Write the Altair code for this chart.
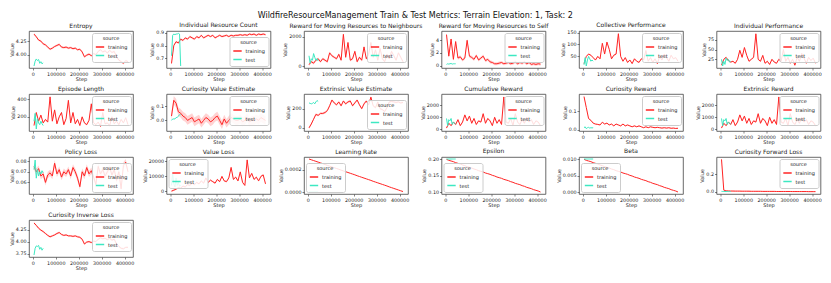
import altair as alt
import pandas as pd

RED = "#ff2424"
CYAN = "#3de8c2"
FONT = "DejaVu Sans"

MAIN_TITLE = "WildfireResourceManagement Train & Test Metrics: Terrain Elevation: 1, Task: 2"

TRAIN_STEPS = [5000, 15000, 25000, 35000, 45000, 55000, 65000, 75000, 85000, 95000,
               105000, 115000, 125000, 135000, 145000, 155000, 165000, 175000, 185000, 195000,
               205000, 215000, 225000, 235000, 245000, 255000, 265000, 275000, 285000, 295000,
               305000, 315000, 325000, 335000, 345000, 355000, 365000, 375000, 385000, 395000,
               405000, 415000]
TEST_STEPS = [5000, 10000, 15000, 20000, 25000, 30000, 35000, 40000, 45000]
X_TICKS = [0, 100000, 200000, 300000, 400000]

ENTROPY_TRAIN = [4.38, 4.33, 4.27, 4.25, 4.20, 4.18, 4.14, 4.10, 4.12, 4.15,
                 4.17, 4.19, 4.14, 4.13, 4.14, 4.12, 4.13, 4.11, 4.12, 4.09,
                 4.10, 4.05, 3.96, 3.99, 4.01, 3.98, 4.02, 4.00, 4.06, 4.09,
                 4.05, 4.07, 4.03, 4.08, 4.04, 4.06, 3.96, 3.90, 3.87, 3.84,
                 3.89, 3.87]
ENTROPY_TEST = [3.79, 3.88, 3.92, 3.89, 3.91, 3.84, 3.87, 3.83, 3.85]

IRC_TRAIN = [0.66, 0.80, 0.83, 0.82, 0.85, 0.84, 0.86, 0.85, 0.87, 0.86,
             0.85, 0.87, 0.86, 0.88, 0.86, 0.87, 0.88, 0.87, 0.88, 0.86,
             0.87, 0.88, 0.87, 0.875, 0.88, 0.87, 0.88, 0.875, 0.88, 0.88,
             0.885, 0.88, 0.885, 0.88, 0.89, 0.885, 0.89, 0.88, 0.89, 0.885,
             0.89, 0.885]
IRC_TEST = [0.72, 0.88, 0.89, 0.885, 0.89, 0.89, 0.895, 0.89, 0.64]

RN_TRAIN = [100, 300, 200, 400, 500, 300, 500, 400, 300, 900,
            700, 600, 500, 800, 400, 2150, 600, 1600, 400, 500,
            1000, 300, 600, 400, 1300, 500, 800, 1600, 600, 1100,
            400, 1200, 500, 300, 800, 500, 1000, 700, 400, 900,
            600, 300]
RN_TEST = [700, 200, 500, 400, 850, 600, 400, 500, 350]

RS_TRAIN = [4.9, 1.5, 4.2, 1.0, 3.8, 1.2, 1.4, 0.9, 1.2, 4.0,
            1.5, 1.3, 1.0, 1.6, 0.9, 1.2, 1.5, 0.8, 1.0, 0.6,
            0.5, 0.3, 0.3, 0.4, 0.5, 0.3, 0.4, 0.5, 0.3, 0.4,
            0.6, 0.3, 0.5, 0.4, 0.6, 0.3, 0.5, 0.2, 0.3, 0.2,
            0.3, 0.25]
RS_TEST = [0.2, 0.3, 0.25, 0.3, 0.35, 0.25, 0.3, 0.3, 0.3]

CP_TRAIN = [20, 50, 60, 55, 45, 35, 50, 40, 105, 60,
            110, 80, 40, 55, 60, 145, 50, 30, 45, 25,
            35, 20, 40, 30, 25, 40, 35, 75, 30, 45,
            25, 40, 20, 50, 35, 60, 45, 30, 55, 40,
            45, 30]
CP_TEST = [15, 45, 10, 35, 50, 40, 30, 35, 30]

IP_TRAIN = [10, 25, 30, 22, 18, 20, 15, 25, 48, 30,
            55, 35, 20, 25, 30, 90, 25, 20, 35, 15,
            20, 12, 25, 18, 15, 25, 20, 50, 20, 30,
            15, 25, 10, 30, 20, 40, 28, 15, 30, 22,
            28, 15]
IP_TEST = [25, 8, 20, 12, 28, 22, 25, 18, 20]

EL_TRAIN = [100, 250, 150, 220, 130, 170, 140, 430, 150, 280,
            120, 200, 250, 110, 180, 390, 130, 250, 120, 170,
            100, 200, 130, 110, 160, 350, 130, 110, 140, 90,
            250, 120, 130, 100, 200, 120, 150, 110, 170, 130,
            190, 110]
EL_TEST = [150, 240, 60, 180, 130, 110, 150, 120, 100]

CVE_TRAIN = [0.03, 0.14, 0.12, 0.06, 0.05, 0.03, 0.02, 0.0, 0.01, 0.02,
             -0.01, 0.0, 0.01, -0.02, 0.0, 0.02, 0.01, -0.01, 0.0, 0.02,
             0.03, 0.0, -0.03, 0.01, -0.02, 0.0, 0.02, 0.01, 0.0, 0.0,
             0.01, -0.01, 0.0, 0.02, -0.01, 0.0, 0.0, 0.01, 0.0, 0.02,
             0.01, 0.0]
CVE_TEST = [0.0, 0.01, 0.01, 0.01, 0.02, 0.02, 0.03, 0.04, 0.04]

EVE_TRAIN = [0, 40, 90, 140, 130, 150, 150, 160, 180, 230,
             290, 260, 240, 270, 230, 280, 250, 270, 280, 230,
             260, 290, 240, 200, 250, 280, 240, 320, 230, 210,
             270, 200, 190, 170, 210, 270, 275, 270, 265, 270,
             260, 265]
EVE_TEST = [260, 255, 250, 255, 265, 250, 270, 285, 275]

CR_TRAIN = [100, 500, 300, 600, 400, 800, 300, 600, 1200, 700,
            1100, 500, 900, 400, 700, 600, 1300, 500, 900, 700,
            300, 1000, 500, 800, 400, 2700, 600, 500, 900, 300,
            1300, 600, 400, 800, 500, 1000, 600, 800, 400, 700,
            600, 300]
CR_TEST = [900, 300, 800, 700, 900, 400, 600, 500, 450]

CUR_TRAIN = [0.18, 0.12, 0.06, 0.05, 0.035, 0.03, 0.028, 0.025, 0.04, 0.03,
             0.035, 0.025, 0.03, 0.02, 0.03, 0.025, 0.02, 0.03, 0.02, 0.025,
             0.02, 0.015, 0.02, 0.015, 0.02, 0.015, 0.01, 0.015, 0.01, 0.015,
             0.012, 0.01, 0.012, 0.01, 0.008, 0.01, 0.008, 0.01, 0.007, 0.008,
             0.006, 0.007]
CUR_TEST = [0.01, 0.015, 0.005, 0.01, 0.012, 0.008, 0.01, 0.009, 0.01]

ER_TRAIN = [100, 500, 300, 600, 400, 800, 300, 600, 1200, 700,
            1100, 500, 900, 400, 700, 600, 1300, 500, 900, 700,
            300, 1000, 500, 800, 400, 2700, 600, 500, 900, 300,
            1300, 600, 400, 800, 500, 1000, 600, 800, 400, 700,
            600, 300]
ER_TEST = [900, 300, 800, 700, 900, 400, 600, 500, 450]

PL_TRAIN = [0.075, 0.070, 0.073, 0.066, 0.068, 0.060, 0.067, 0.069, 0.066, 0.078,
            0.068, 0.072, 0.065, 0.070, 0.068, 0.072, 0.066, 0.074, 0.070, 0.064,
            0.056, 0.070, 0.066, 0.074, 0.068, 0.071, 0.065, 0.058, 0.075, 0.068,
            0.072, 0.066, 0.070, 0.074, 0.067, 0.072, 0.062, 0.070, 0.054, 0.076,
            0.079, 0.070]
PL_TEST = [0.072, 0.081, 0.064, 0.072, 0.066, 0.070, 0.068, 0.071, 0.069]

VL_TRAIN = [200, 800, 1500, 2500, 2200, 3500, 3000, 4500, 4000, 5500,
            4500, 6000, 5000, 7000, 5500, 9000, 6000, 7500, 6500, 5500,
            8000, 6500, 10000, 7000, 6500, 9000, 16000, 8000, 9500, 7000,
            13000, 6000, 4000, 21000, 9000, 12000, 8000, 9500, 7000, 10000,
            11000, 5000]
VL_TEST = [4000, 12000, 5000, 3000, 9000, 4000, 6000, 3500, 4000]

LR_TRAIN = [2.96e-4, 2.89e-4, 2.82e-4, 2.75e-4, 2.68e-4, 2.61e-4, 2.54e-4, 2.46e-4, 2.39e-4, 2.32e-4,
            2.25e-4, 2.18e-4, 2.11e-4, 2.04e-4, 1.96e-4, 1.89e-4, 1.82e-4, 1.75e-4, 1.68e-4, 1.61e-4,
            1.54e-4, 1.46e-4, 1.39e-4, 1.32e-4, 1.25e-4, 1.18e-4, 1.11e-4, 1.04e-4, 9.6e-5, 8.9e-5,
            8.2e-5, 7.5e-5, 6.8e-5, 6.1e-5, 5.4e-5, 4.6e-5, 3.9e-5, 3.2e-5, 2.5e-5, 1.8e-5,
            1.1e-5, 4e-6]
LR_TEST = [0.0, 0.0, 0.0, 0.0, 0.0, 0.0, 0.0, 0.0, 0.0]

EPS_TRAIN = [0.199, 0.196, 0.194, 0.192, 0.189, 0.187, 0.185, 0.182, 0.180, 0.177,
             0.175, 0.173, 0.170, 0.168, 0.165, 0.163, 0.161, 0.158, 0.156, 0.154,
             0.151, 0.149, 0.146, 0.144, 0.142, 0.139, 0.137, 0.135, 0.132, 0.130,
             0.127, 0.125, 0.123, 0.120, 0.118, 0.115, 0.113, 0.111, 0.108, 0.106,
             0.104, 0.101]
EPS_TEST = [0.2, 0.2, 0.2, 0.2, 0.2, 0.2, 0.2, 0.2, 0.2]

BETA_TRAIN = [0.0099, 0.0096, 0.0094, 0.0092, 0.0089, 0.0087, 0.0085, 0.0082, 0.0080, 0.0077,
              0.0075, 0.0073, 0.0070, 0.0068, 0.0065, 0.0063, 0.0061, 0.0058, 0.0056, 0.0054,
              0.0051, 0.0049, 0.0046, 0.0044, 0.0042, 0.0039, 0.0037, 0.0035, 0.0032, 0.0030,
              0.0027, 0.0025, 0.0023, 0.0020, 0.0018, 0.0015, 0.0013, 0.0011, 0.0008, 0.0006,
              0.0004, 0.0001]
BETA_TEST = [0.01, 0.01, 0.01, 0.01, 0.01, 0.01, 0.01, 0.01, 0.01]

CFL_TRAIN = [0.37, 0.02, 0.012, 0.011, 0.010, 0.010, 0.009, 0.009, 0.009, 0.008,
             0.008, 0.008, 0.008, 0.007, 0.007, 0.007, 0.007, 0.007, 0.006, 0.006,
             0.006, 0.006, 0.006, 0.006, 0.005, 0.005, 0.005, 0.005, 0.005, 0.005,
             0.005, 0.004, 0.004, 0.004, 0.004, 0.004, 0.004, 0.004, 0.003, 0.003,
             0.003, 0.003]
CFL_TEST = [0.006, 0.005, 0.005, 0.005, 0.004, 0.005, 0.004, 0.004, 0.004]

CIL_TRAIN = [4.39, 4.34, 4.28, 4.24, 4.21, 4.17, 4.13, 4.10, 4.12, 4.14,
             4.17, 4.19, 4.15, 4.13, 4.14, 4.12, 4.12, 4.11, 4.12, 4.10,
             4.09, 4.05, 3.95, 3.99, 4.00, 3.98, 4.01, 4.00, 4.05, 4.08,
             4.06, 4.07, 4.04, 4.07, 4.03, 4.05, 3.95, 3.90, 3.86, 3.85,
             3.88, 3.88]
CIL_TEST = [3.72, 3.86, 3.91, 3.90, 3.92, 3.84, 3.88, 3.82, 3.86]

# title, train, test, band half-width, y tick values, tick format, legend corner
PANELS = [
    ("Entropy", ENTROPY_TRAIN, ENTROPY_TEST, 0.02, [3.75, 4.0, 4.25], ".2f", "top-right"),
    ("Individual Resource Count", IRC_TRAIN, IRC_TEST, 0.008, [0.7, 0.8, 0.9], ".1f", "bottom-right"),
    ("Reward for Moving Resources to Neighbours", RN_TRAIN, RN_TEST, 90, [0, 2000], "d", "top-right"),
    ("Reward for Moving Resources to Self", RS_TRAIN, RS_TEST, 0.25, [0, 2, 4], "d", "top-right"),
    ("Collective Performance", CP_TRAIN, CP_TEST, 3, [50, 100, 150], "d", "top-right"),
    ("Individual Performance", IP_TRAIN, IP_TEST, 2, [25, 50, 75], "d", "top-right"),
    ("Episode Length", EL_TRAIN, EL_TEST, 10, [200, 400], "d", "top-right"),
    ("Curiosity Value Estimate", CVE_TRAIN, CVE_TEST, 0.03, [0.0, 0.1], ".1f", "top-right"),
    ("Extrinsic Value Estimate", EVE_TRAIN, EVE_TEST, 12, [0, 200], "d", "bottom-right"),
    ("Cumulative Reward", CR_TRAIN, CR_TEST, 80, [0, 1000, 2000], "d", "top-right"),
    ("Curiosity Reward", CUR_TRAIN, CUR_TEST, 0.003, [0.0, 0.1], ".1f", "top-right"),
    ("Extrinsic Reward", ER_TRAIN, ER_TEST, 80, [0, 1000, 2000], "d", "top-right"),
    ("Policy Loss", PL_TRAIN, PL_TEST, 0.003, [0.06, 0.07, 0.08], ".2f", "bottom-right"),
    ("Value Loss", VL_TRAIN, VL_TEST, 600, [0, 10000, 20000], "d", "top-left"),
    ("Learning Rate", LR_TRAIN, LR_TEST, 0, [0.0, 0.0002], ".4f", "bottom-left"),
    ("Epsilon", EPS_TRAIN, EPS_TEST, 0, [0.10, 0.15, 0.20], ".2f", "bottom-left"),
    ("Beta", BETA_TRAIN, BETA_TEST, 0, [0.0, 0.005, 0.01], ".3f", "bottom-left"),
    ("Curiosity Forward Loss", CFL_TRAIN, CFL_TEST, 0.004, [0.0, 0.2], ".1f", "top-right"),
    ("Curiosity Inverse Loss", CIL_TRAIN, CIL_TEST, 0.02, [3.75, 4.0, 4.25], ".2f", "top-right"),
]

W, H = 104, 37


def make_panel(title, train, test, spread, ticks, fmt, orient):
    rows = [{"step": s, "value": v, "source": "training"} for s, v in zip(TRAIN_STEPS, train)]
    rows += [{"step": s, "value": v, "source": "test"} for s, v in zip(TEST_STEPS, test)]
    df = pd.DataFrame(rows)

    xenc = alt.X("step:Q", title="Step",
                 scale=alt.Scale(zero=False, nice=False, padding=5),
                 axis=alt.Axis(values=X_TICKS, format="d"))
    yscale = alt.Scale(zero=False, nice=False, padding=2)
    yaxis = alt.Axis(values=ticks, format=fmt)

    layers = []
    if spread > 0:
        bdf = pd.DataFrame({
            "step": [s for s, _ in zip(TRAIN_STEPS, train)],
            "lo": [v - spread for v in train],
            "hi": [v + spread for v in train],
        })
        band = alt.Chart(bdf).mark_area(color=RED, opacity=0.2).encode(
            x=xenc,
            y=alt.Y("lo:Q", title="Value", scale=yscale, axis=yaxis),
            y2="hi:Q",
        )
        layers.append(band)

    line = alt.Chart(df).mark_line(strokeWidth=1).encode(
        x=xenc,
        y=alt.Y("value:Q", title="Value", scale=yscale, axis=yaxis),
        color=alt.Color("source:N",
                        scale=alt.Scale(domain=["training", "test"], range=[RED, CYAN]),
                        legend=alt.Legend(title="source", orient=orient)),
    )
    layers.append(line)
    return alt.layer(*layers).properties(title=title, width=W, height=H)


panels = [make_panel(*p) for p in PANELS]

chart = alt.concat(
    *panels,
    columns=6,
    spacing={"row": 26, "column": 33.5},
    bounds="flush",
).resolve_scale(
    color="independent"
).properties(
    title=alt.TitleParams(MAIN_TITLE, fontSize=8, anchor="middle", offset=1,
                          font=FONT, fontWeight="normal", color="#111"),
    padding={"left": 0, "top": 4, "right": 0, "bottom": 0},
).configure_view(
    stroke="#444444", strokeWidth=0.8
).configure_axis(
    labelFont=FONT, titleFont=FONT, labelFontSize=4.8, titleFontSize=5,
    titleFontWeight="normal", labelColor="#222222", titleColor="#222222",
    tickColor="#333333", tickSize=2, tickWidth=0.6, labelPadding=1, titlePadding=1,
    domain=False, grid=False, labelFlush=False, labelOverlap=False
).configure_title(
    font=FONT, fontSize=6, fontWeight="normal", color="#222222", offset=2
).configure_legend(
    titleFont=FONT, labelFont=FONT, titleFontSize=5, labelFontSize=5,
    titleFontWeight="normal", titleAnchor="middle", titlePadding=1,
    symbolType="stroke", symbolStrokeWidth=1.5, symbolSize=70,
    padding=3, rowPadding=0.5, labelOffset=3,
    strokeColor="#cccccc", fillColor="rgba(255,255,255,0.85)", cornerRadius=2, offset=2,
    labelColor="#222222", titleColor="#222222"
)

chart.save("out.html", embed_options={"renderer": "svg", "actions": False})
